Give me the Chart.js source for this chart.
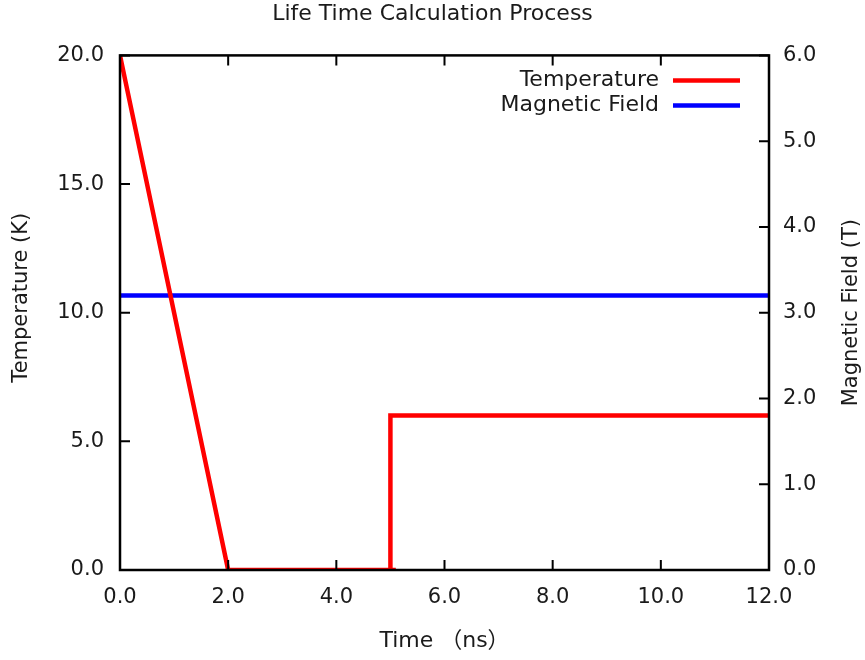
<!DOCTYPE html>
<html>
<head>
<meta charset="utf-8">
<script src="https://cdn.jsdelivr.net/npm/chart.js@4/dist/chart.umd.min.js"></script>
<style>
html,body{margin:0;padding:0;background:#fff;}
#wrap{width:865px;height:660px;}
</style>
</head>
<body>
<div id="wrap"><canvas id="c" width="865" height="660"></canvas></div>
<script>
const chartTitle = "Life Time Calculation Process";
const xTitle = "Time （ns）";
const yTitle = "Temperature (K)";
const y2Title = "Magnetic Field (T)";
const seriesNames = ["Temperature", "Magnetic Field"];
const tempTime = [0, 2, 5.1, 5, 5, 12];
const tempValues = [20, 0, 0, 0, 6, 6];
const fieldTime = [0, 12];
const fieldValues = [3.2, 3.2];
const xTicks = [0, 2, 4, 6, 8, 10, 12];
const yTicks = [0, 5, 10, 15, 20];
const y2Ticks = [0, 1, 2, 3, 4, 5, 6];

const FONT = "'DejaVu Sans', sans-serif";
const TXT = '#1a1a1a';

function vText(ctx, text, x, y) {
  ctx.save();
  ctx.translate(x, y);
  ctx.rotate(-Math.PI / 2);
  ctx.textAlign = 'center';
  ctx.textBaseline = 'middle';
  ctx.font = "21px " + FONT;
  ctx.fillStyle = TXT;
  ctx.fillText(text, 0, 0);
  ctx.restore();
}

const frame = {
  id: 'frame',
  afterDatasetsDraw(chart) {
    const {ctx, chartArea: a, scales} = chart;
    ctx.save();
    ctx.strokeStyle = '#000';
    ctx.lineWidth = 2;
    const tl = 10;
    ctx.beginPath();
    scales.x.ticks.forEach((t, i) => {
      const px = scales.x.getPixelForTick(i);
      ctx.moveTo(px, a.bottom); ctx.lineTo(px, a.bottom - tl);
      ctx.moveTo(px, a.top); ctx.lineTo(px, a.top + tl);
    });
    scales.y.ticks.forEach((t, i) => {
      const py = scales.y.getPixelForTick(i);
      ctx.moveTo(a.left, py); ctx.lineTo(a.left + tl, py);
    });
    scales.y2.ticks.forEach((t, i) => {
      const py = scales.y2.getPixelForTick(i);
      ctx.moveTo(a.right, py); ctx.lineTo(a.right - tl, py);
    });
    ctx.stroke();
    ctx.lineWidth = 2.5;
    ctx.strokeRect(a.left, a.top, a.right - a.left, a.bottom - a.top);
    // legend inside top-right
    ctx.font = "22px " + FONT;
    ctx.textAlign = 'right';
    ctx.textBaseline = 'middle';
    chart.data.datasets.forEach((ds, i) => {
      const y = a.top + 25 + i * 25;
      ctx.fillStyle = TXT;
      ctx.fillText(ds.label, a.right - 110, y);
      ctx.strokeStyle = ds.borderColor;
      ctx.lineWidth = 4.5;
      ctx.beginPath();
      ctx.moveTo(a.right - 96, y); ctx.lineTo(a.right - 29, y);
      ctx.stroke();
    });
    ctx.restore();
    // axis titles, reading bottom-to-top
    vText(ctx, yTitle, 22, (a.top + a.bottom) / 2 - 15);
    vText(ctx, y2Title, 852, (a.top + a.bottom) / 2);
  }
};

const tickFont = {family: FONT, size: 21};
new Chart(document.getElementById('c'), {
  type: 'line',
  data: {
    datasets: [
      {label: seriesNames[0], data: tempTime.map((t, i) => ({x: t, y: tempValues[i]})),
       borderColor: '#ff0000', borderWidth: 4.5, pointRadius: 0, yAxisID: 'y', tension: 0},
      {label: seriesNames[1], data: fieldTime.map((t, i) => ({x: t, y: fieldValues[i]})),
       borderColor: '#0000ff', borderWidth: 4.5, pointRadius: 0, yAxisID: 'y2', tension: 0}
    ]
  },
  options: {
    responsive: false,
    animation: false,
    devicePixelRatio: 1,
    layout: {padding: 0},
    plugins: {
      legend: {display: false},
      tooltip: {enabled: false},
      title: {display: true, text: chartTitle, color: TXT,
        font: {family: FONT, size: 22, weight: 'normal'}, padding: {top: 1, bottom: 28}}
    },
    scales: {
      x: {type: 'linear', min: 0, max: 12,
        afterBuildTicks: s => { s.ticks = xTicks.map(v => ({value: v})); },
        afterFit: s => { s.height = 90; },
        grid: {display: false, drawTicks: false}, border: {display: false},
        ticks: {font: tickFont, color: TXT, padding: 15, maxRotation: 0, callback: v => v.toFixed(1)},
        title: {display: true, text: xTitle, color: TXT, font: {family: "'DejaVu Sans', 'Noto Sans CJK SC', sans-serif", size: 22}, padding: {bottom: 6}}
      },
      y: {type: 'linear', position: 'left', min: 0, max: 20,
        afterBuildTicks: s => { s.ticks = yTicks.map(v => ({value: v})); },
        afterFit: s => { s.width = 120; },
        grid: {display: false, drawTicks: false}, border: {display: false},
        ticks: {font: tickFont, color: TXT, padding: 16, callback: v => v.toFixed(1)},
        title: {display: false, text: yTitle}
      },
      y2: {type: 'linear', position: 'right', min: 0, max: 6,
        afterBuildTicks: s => { s.ticks = y2Ticks.map(v => ({value: v})); },
        afterFit: s => { s.width = 96; },
        grid: {display: false, drawTicks: false}, border: {display: false},
        ticks: {font: tickFont, color: TXT, padding: 14, callback: v => v.toFixed(1)},
        title: {display: false, text: y2Title}
      }
    }
  },
  plugins: [frame]
});
</script>
</body>
</html>
